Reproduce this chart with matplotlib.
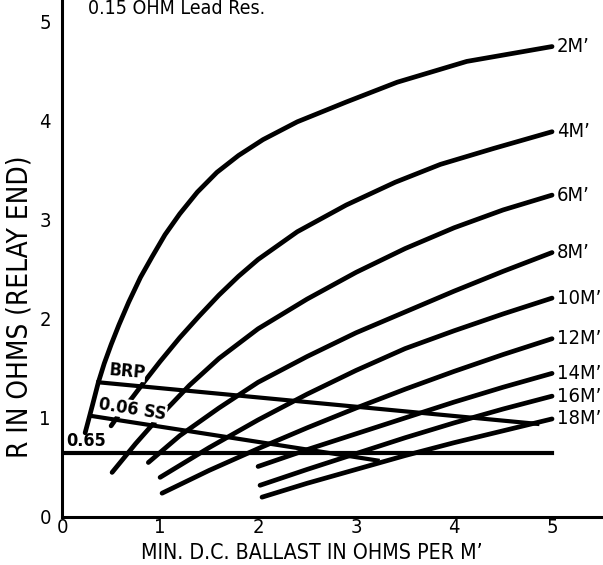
import matplotlib
matplotlib.use("Agg")
import matplotlib.pyplot as plt

plt.rcParams['font.family'] = ['DejaVu Sans']
plt.rcParams['font.stretch'] = 'condensed'

# values: ballast (ohms per M') -> R (ohms)
x_2m = [0.235, 0.27, 0.31, 0.37, 0.43, 0.50, 0.58, 0.68, 0.80, 0.92, 1.05, 1.2, 1.38, 1.58, 1.8, 2.05, 2.4, 2.9, 3.42, 4.13, 5.0]
r_2m = [0.85, 0.98, 1.13, 1.36, 1.55, 1.74, 1.94, 2.17, 2.42, 2.63, 2.85, 3.06, 3.28, 3.48, 3.65, 3.81, 3.99, 4.19, 4.39, 4.60, 4.75]
x_4m = [0.50, 0.60, 0.72, 0.85, 1.0, 1.2, 1.4, 1.6, 1.8, 2.0, 2.4, 2.9, 3.4, 3.86, 4.4, 5.0]
r_4m = [0.92, 1.06, 1.21, 1.38, 1.57, 1.81, 2.03, 2.24, 2.43, 2.60, 2.88, 3.15, 3.38, 3.56, 3.72, 3.89]
x_6m = [0.51, 0.75, 1.0, 1.3, 1.6, 2.0, 2.5, 3.0, 3.5, 4.0, 4.5, 5.0]
r_6m = [0.45, 0.74, 1.02, 1.33, 1.60, 1.90, 2.20, 2.47, 2.71, 2.92, 3.10, 3.25]
x_8m = [0.88, 1.2, 1.6, 2.0, 2.5, 3.0, 3.5, 4.0, 4.5, 5.0]
r_8m = [0.55, 0.82, 1.10, 1.36, 1.62, 1.86, 2.07, 2.28, 2.48, 2.67]
x_10m = [1.0, 1.5, 2.0, 2.5, 3.0, 3.5, 4.0, 4.5, 5.0]
r_10m = [0.40, 0.70, 0.98, 1.24, 1.48, 1.70, 1.88, 2.05, 2.21]
x_12m = [1.02, 1.5, 2.0, 2.5, 3.0, 3.5, 4.0, 4.5, 5.0]
r_12m = [0.24, 0.47, 0.69, 0.90, 1.10, 1.29, 1.47, 1.64, 1.80]
x_14m = [2.0, 2.5, 3.0, 3.5, 4.0, 4.5, 5.0]
r_14m = [0.51, 0.68, 0.84, 1.00, 1.16, 1.31, 1.45]
x_16m = [2.02, 2.5, 3.0, 3.5, 4.0, 4.5, 5.0]
r_16m = [0.32, 0.48, 0.64, 0.80, 0.95, 1.09, 1.22]
x_18m = [2.04, 2.5, 3.0, 3.5, 4.0, 4.5, 5.0]
r_18m = [0.20, 0.34, 0.48, 0.62, 0.75, 0.87, 0.99]
curve_labels = ["2M’", "4M’", "6M’", "8M’", "10M’", "12M’", "14M’", "16M’", "18M’"]

# limit lines
brp_x = [0.37, 4.85]
brp_r = [1.36, 0.94]
ss_x = [0.30, 3.22]
ss_r = [1.02, 0.57]
min_x = [0.0, 5.0]
min_r = [0.65, 0.65]

curves = [(x_2m, r_2m), (x_4m, r_4m), (x_6m, r_6m), (x_8m, r_8m), (x_10m, r_10m),
          (x_12m, r_12m), (x_14m, r_14m), (x_16m, r_16m), (x_18m, r_18m)]

fig = plt.figure(figsize=(6.03, 5.65), dpi=100)
ax = fig.add_axes([0.103, 0.085, 0.897, 0.915])

for (xs, rs), lab in zip(curves, curve_labels):
    ax.plot(xs, rs, color="black", lw=3.4, solid_capstyle="round", solid_joinstyle="round", zorder=2)
    ax.text(xs[-1] + 0.05, rs[-1], lab, ha="left", va="center", fontsize=14.5)

ax.plot(brp_x, brp_r, color="black", lw=3.0, zorder=2)
ax.plot(ss_x, ss_r, color="black", lw=3.0, zorder=2)
ax.plot(min_x, min_r, color="black", lw=3.0, zorder=2)

ax.text(0.66, 1.47, "BRP", fontsize=13, fontweight="bold", ha="center", va="center", rotation=-5,
        bbox=dict(fc="white", ec="none", pad=0.3), zorder=3)
ax.text(0.72, 1.085, "0.06 SS", fontsize=13, fontweight="bold", ha="center", va="center", rotation=-9,
        bbox=dict(fc="white", ec="none", pad=0.3), zorder=3)
ax.text(0.24, 0.77, "0.65", fontsize=13, fontweight="bold", ha="center", va="center", zorder=3)
ax.text(0.26, 5.13, "0.15 OHM Lead Res.", fontsize=14, ha="left", va="center")

ax.set_xlim(0, 5.52)
ax.set_ylim(0, 5.22)
ax.set_xticks([0, 1, 2, 3, 4, 5])
ax.set_yticks([0, 1, 2, 3, 4, 5])
ax.tick_params(length=0, labelsize=14.5)
ax.tick_params(axis="y", pad=8)
ax.tick_params(axis="x", pad=1)
ax.spines["top"].set_visible(False)
ax.spines["right"].set_visible(False)
ax.spines["left"].set_linewidth(2.2)
ax.spines["bottom"].set_linewidth(2.2)
ax.set_xlabel("MIN. D.C. BALLAST IN OHMS PER M’", fontsize=15.3)
ax.set_ylabel("R IN OHMS (RELAY END)", fontsize=20)
ax.xaxis.set_label_coords(0.462, -0.05)
ax.yaxis.set_label_coords(-0.052, 0.406)

plt.savefig("out.png", dpi=100)
